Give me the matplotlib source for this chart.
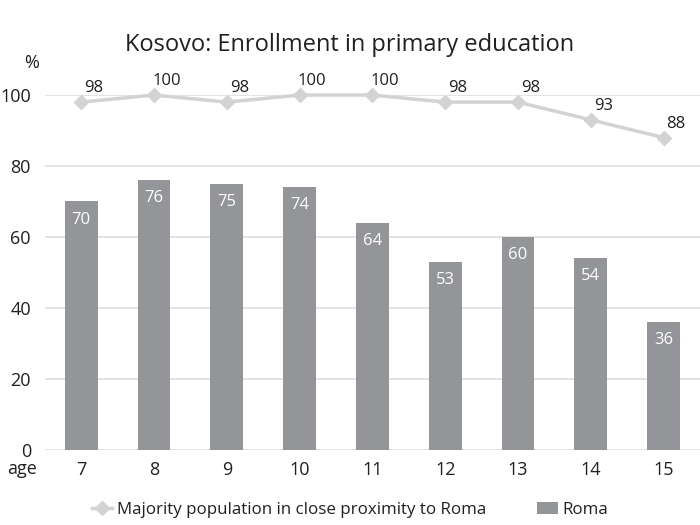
import matplotlib.pyplot as plt
import numpy as np

ages = ["7", "8", "9", "10", "11", "12", "13", "14", "15"]
majority = [98, 100, 98, 100, 100, 98, 98, 93, 88]
roma = [70, 76, 75, 74, 64, 53, 60, 54, 36]

BAR_COLOR = "#939598"
LINE_COLOR = "#d1d3d4"
GRID_COLOR = "#dedede"
TEXT_COLOR = "#231f20"

plt.rcParams["font.family"] = ["Open Sans", "DejaVu Sans"]

fig = plt.figure(figsize=(7, 5.25), dpi=100)
ax = fig.add_axes([0.064, 0.143, 0.936, 0.676])

x = np.arange(len(ages))
ax.bar(x, roma, width=0.45, color=BAR_COLOR, zorder=2, label="Roma")
ax.plot(x, majority, color=LINE_COLOR, lw=2.5, marker="D", markersize=7,
        zorder=3, clip_on=False, label="Majority population in close proximity to Roma")

for xi, v in zip(x, roma):
    ax.annotate(str(v), (xi, v), xytext=(0, -13), textcoords="offset points",
                ha="center", va="center", color="white", fontsize=12)
for xi, v in zip(x, majority):
    ax.annotate(str(v), (xi, v), xytext=(9, 10), textcoords="offset points",
                ha="center", va="center", color=TEXT_COLOR, fontsize=12)

ax.set_xlim(-0.5, len(ages) - 0.5)
ax.set_ylim(0, 100)
ax.set_yticks([0, 20, 40, 60, 80, 100])
ax.set_xticks(x)
ax.set_xticklabels(ages)
ax.yaxis.grid(True, color=GRID_COLOR, lw=1.2, zorder=0)
ax.set_axisbelow(True)
for s in ax.spines.values():
    s.set_visible(False)
ax.tick_params(axis="both", length=0, labelsize=13, colors=TEXT_COLOR)
ax.tick_params(axis="y", pad=10)
ax.tick_params(axis="x", pad=8)

fig.text(32 / 700, 1 - 63 / 525, "%", ha="center", va="center", fontsize=13, color=TEXT_COLOR)
fig.text(22 / 700, 1 - 469 / 525, "age", ha="center", va="center", fontsize=13, color=TEXT_COLOR)
fig.text(350 / 700, 1 - 45 / 525, "Kosovo: Enrollment in primary education",
         ha="center", va="center", fontsize=17, color=TEXT_COLOR)

handles, labels = ax.get_legend_handles_labels()
line_idx = labels.index("Majority population in close proximity to Roma")
bar_idx = labels.index("Roma")
order = [line_idx, bar_idx]
leg = fig.legend([handles[i] for i in order], [labels[i] for i in order],
                 loc="center", bbox_to_anchor=(0.5, 1 - 510 / 525), ncol=2,
                 frameon=False, fontsize=12.2, handlelength=1.2, columnspacing=3.0,
                 handletextpad=0.3)
for t in leg.get_texts():
    t.set_color(TEXT_COLOR)

fig.savefig("out.png", dpi=100)
